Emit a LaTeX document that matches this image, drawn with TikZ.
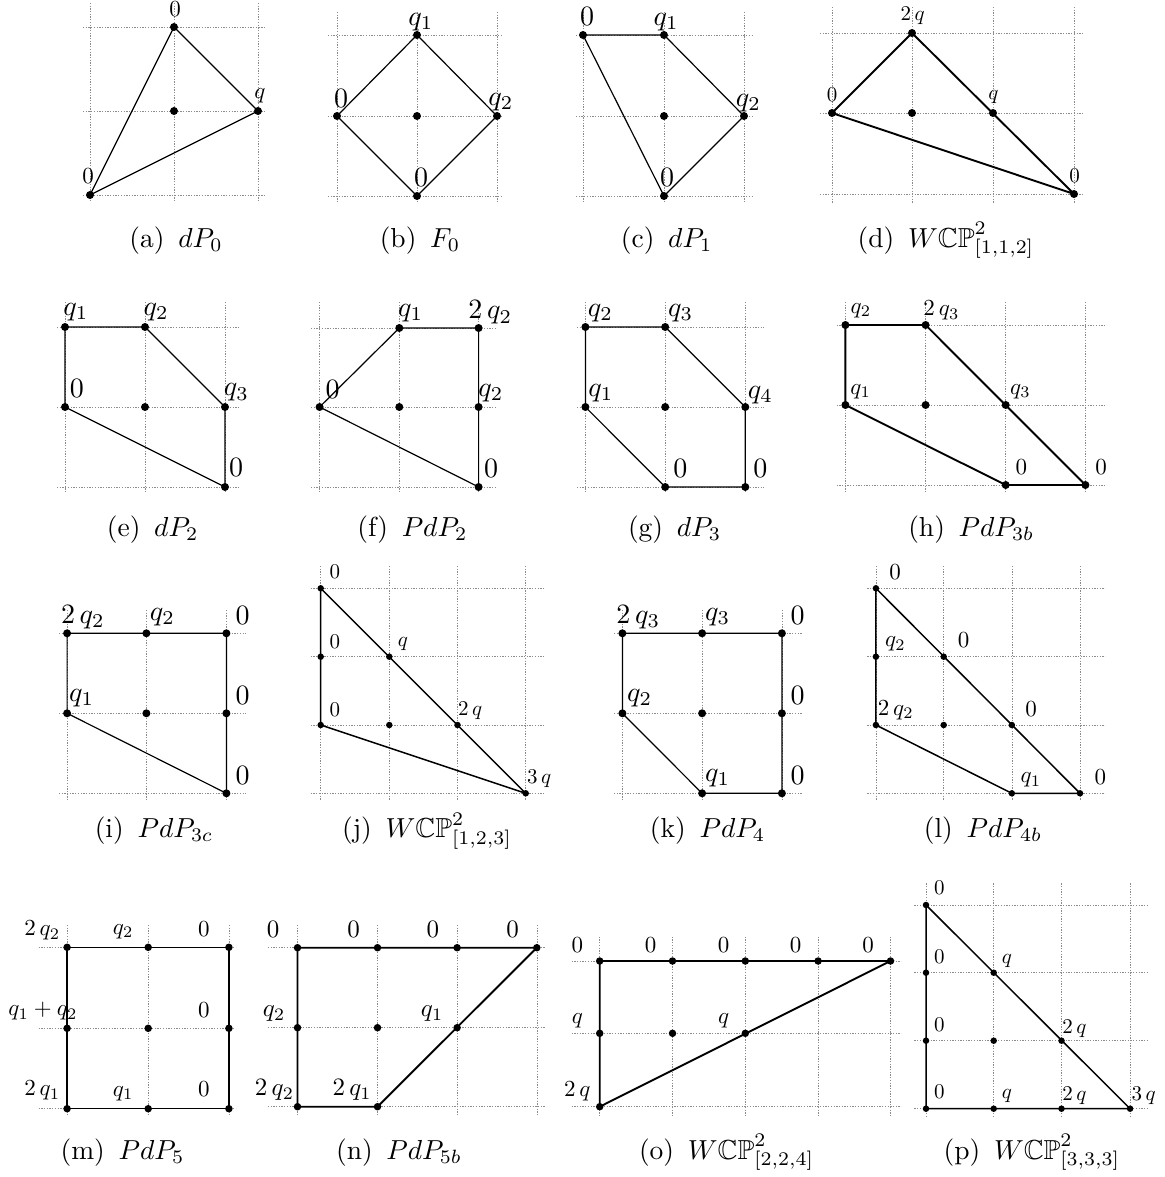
\RequirePackage{fix-cm}
\documentclass[tikz,border=0pt]{standalone}
\usepackage{amssymb}
\tikzset{
  grd/.style={draw=black!45, line width=0.6pt, dash pattern=on 1.3pt off 1.4pt},
  edg/.style={line width=1.2pt, line join=miter},
  edgm/.style={line width=1.5pt, line join=miter},
  edgt/.style={line width=1.9pt, line join=miter},
  vtxA/.style={circle, fill=black, inner sep=0pt, minimum size=8pt},
  vtxC/.style={circle, fill=black, inner sep=0pt, minimum size=7.5pt},
  vtxB/.style={circle, fill=black, inner sep=0pt, minimum size=6.5pt},
  lbl/.style={inner sep=0pt},
  fsa/.style={scale=2.1},
  fsb/.style={scale=2.3},
  fsc/.style={scale=2.5},
  fsd/.style={scale=2.8},
  captxt/.style={anchor=base, inner sep=0pt, scale=2.75},
}
\newcommand{\mygrid}[6]{%
  \foreach \gx in {#1} \draw[grd] (\gx,#5) -- (\gx,#6);
  \foreach \gy in {#2} \draw[grd] (#3,\gy) -- (#4,\gy);}
\newcommand{\capsep}{\hspace{0.5em}}
\begin{document}
\begin{tikzpicture}[x=1pt,y=-1pt]
\useasboundingbox (0,0) rectangle (1164,1177);
\fill[white] (0,0) rectangle (1164,1177);

% ---------- (a) dP0
\mygrid{90,174,258}{27,111,195}{83}{266}{3}{202}
\node[vtxA] (a1) at (90,195) {};
\node[vtxA] (a2) at (174,27) {};
\node[vtxA] (a3) at (258,111) {};
\node[vtxA] (a4) at (174,111) {};
\draw[edg] (a1.center) -- (a2.center) -- (a3.center) -- cycle;
\node[lbl,fsb] (la1) at (175,9) {$0$};
\node[lbl,fsb] (la2) at (260,96) {$q$};
\node[lbl,fsb] (la3) at (88,176) {$0$};
\node[captxt] (ca) at (176,247) {(a)\capsep$dP_0$};

% ---------- (b) F0
\mygrid{337,417,497}{35,116,196}{328}{503}{12}{203}
\node[vtxA] (b1) at (417,35) {};
\node[vtxA] (b2) at (337,116) {};
\node[vtxA] (b3) at (497,116) {};
\node[vtxA] (b4) at (417,196) {};
\node[vtxA] (b5) at (417,116) {};
\draw[edg] (b1.center) -- (b3.center) -- (b4.center) -- (b2.center) -- cycle;
\node[lbl,fsd] (lb1) at (421,21.7) {$q_1$};
\node[lbl,fsd] (lb2) at (341,98) {$0$};
\node[lbl,fsd] (lb3) at (501,101.7) {$q_2$};
\node[lbl,fsd] (lb4) at (421,177.5) {$0$};
\node[captxt] (cb) at (420,247) {(b)\capsep$F_0$};

% ---------- (c) dP1
\mygrid{583,664,744}{35,116,196}{576}{752}{12}{203}
\node[vtxA] (c1) at (583,35) {};
\node[vtxA] (c2) at (664,35) {};
\node[vtxA] (c3) at (744,116) {};
\node[vtxA] (c4) at (664,196) {};
\node[vtxA] (c5) at (664,116) {};
\draw[edg] (c1.center) -- (c2.center) -- (c3.center) -- (c4.center) -- cycle;
\node[lbl,fsd] (lc1) at (587,16) {$0$};
\node[lbl,fsd] (lc2) at (666.2,21.7) {$q_1$};
\node[lbl,fsd] (lc3) at (748.3,103.3) {$q_2$};
\node[lbl,fsd] (lc4) at (667.2,177.5) {$0$};
\node[captxt] (cc) at (666.7,247) {(c)\capsep$dP_1$};

% ---------- (d) WCP^2_[1,1,2]
\mygrid{832,912,993,1074}{33,113,194}{820}{1083}{7}{203}
\node[vtxA] (d1) at (832,113) {};
\node[vtxA] (d2) at (912,33) {};
\node[vtxA] (d3) at (1074,194) {};
\node[vtxA] (d4) at (912,113) {};
\node[vtxA] (d5) at (993,113) {};
\draw[edgt] (d1.center) -- (d2.center) -- (d3.center) -- cycle;
\node[lbl,fsa] (ld1) at (912.8,16.2) {$2\,q$};
\node[lbl,fsa] (ld2) at (993.3,97.5) {$q$};
\node[lbl,fsa] (ld3) at (1074.5,175.5) {$0$};
\node[lbl,fsa] (ld4) at (832,95) {$0$};
\node[captxt] (cd) at (946,247) {(d)\capsep$W\mathbb{CP}^2_{[1,1,2]}$};

% ---------- (e) dP2
\mygrid{65,145,225}{327,407,487}{57}{239}{302}{493}
\node[vtxA] (e1) at (65,327) {};
\node[vtxA] (e2) at (145,327) {};
\node[vtxA] (e3) at (225,407) {};
\node[vtxA] (e4) at (225,487) {};
\node[vtxA] (e5) at (65,407) {};
\node[vtxA] (e6) at (145,407) {};
\draw[edg] (e1.center) -- (e2.center) -- (e3.center) -- (e4.center) -- (e5.center) -- cycle;
\node[lbl,fsd] (le1) at (75.9,312.3) {$q_1$};
\node[lbl,fsd] (le2) at (156.2,312.3) {$q_2$};
\node[lbl,fsd] (le3) at (76.8,388.3) {$0$};
\node[lbl,fsd] (le4) at (236.4,392.5) {$q_3$};
\node[lbl,fsd] (le5) at (236.2,467.5) {$0$};
\node[captxt] (ce) at (152.7,536) {(e)\capsep$dP_2$};

% ---------- (f) PdP2
\mygrid{319.6,399.3,478.6}{328,407,487}{311}{495}{302}{493}
\node[vtxA] (f1) at (319.6,407) {};
\node[vtxA] (f2) at (399.3,328) {};
\node[vtxA] (f3) at (478.6,328) {};
\node[vtxA] (f4) at (478.6,407) {};
\node[vtxA] (f5) at (478.6,487) {};
\node[vtxA] (f6) at (399.3,407) {};
\draw[edg] (f1.center) -- (f2.center) -- (f3.center) -- (f5.center) -- cycle;
\node[lbl,fsd] (lf1) at (332.5,389) {$0$};
\node[lbl,fsd] (lf2) at (410.7,313.3) {$q_1$};
\node[lbl,fsd] (lf3) at (490.2,312.5) {$2\,q_2$};
\node[lbl,fsd] (lf4) at (491,393.3) {$q_2$};
\node[lbl,fsd] (lf5) at (491,468.3) {$0$};
\node[captxt] (cf) at (412.5,536) {(f)\capsep$PdP_2$};

% ---------- (g) dP3
\mygrid{585.4,665.2,745.3}{327,407,487}{577}{764}{302}{493}
\node[vtxA] (g1) at (585.4,327) {};
\node[vtxA] (g2) at (665.2,327) {};
\node[vtxA] (g3) at (745.3,407) {};
\node[vtxA] (g4) at (745.3,487) {};
\node[vtxA] (g5) at (665.2,487) {};
\node[vtxA] (g6) at (585.4,407) {};
\node[vtxA] (g7) at (665.2,407) {};
\draw[edg] (g1.center) -- (g2.center) -- (g3.center) -- (g4.center) -- (g5.center) -- (g6.center) -- cycle;
\node[lbl,fsd] (lg1) at (600.4,313.3) {$q_2$};
\node[lbl,fsd] (lg2) at (680.6,313.3) {$q_3$};
\node[lbl,fsd] (lg3) at (600.9,393.3) {$q_1$};
\node[lbl,fsd] (lg4) at (760.3,394.7) {$q_4$};
\node[lbl,fsd] (lg5) at (680.3,468.3) {$0$};
\node[lbl,fsd] (lg6) at (760.3,468.3) {$0$};
\node[captxt] (cg) at (674.6,536) {(g)\capsep$dP_3$};

% ---------- (h) PdP3b
\mygrid{845.4,925.6,1005.7,1085.4}{325,405,485}{836.6}{1106}{302}{493}
\node[vtxA] (h1) at (845.4,325) {};
\node[vtxA] (h2) at (925.6,325) {};
\node[vtxA] (h3) at (1005.7,405) {};
\node[vtxA] (h4) at (1085.4,485) {};
\node[vtxA] (h5) at (1005.7,485) {};
\node[vtxA] (h6) at (845.4,405) {};
\node[vtxA] (h7) at (925.6,405) {};
\draw[edgt] (h1.center) -- (h2.center) -- (h4.center) -- (h5.center) -- (h6.center) -- cycle;
\node[lbl,fsb] (lh1) at (860.8,310.8) {$q_2$};
\node[lbl,fsb] (lh2) at (941.4,310.5) {$2\,q_3$};
\node[lbl,fsb] (lh3) at (1020.3,391.7) {$q_3$};
\node[lbl,fsb] (lh4) at (860.6,391.7) {$q_1$};
\node[lbl,fsb] (lh5) at (1021.3,467.2) {$0$};
\node[lbl,fsb] (lh6) at (1101.2,467.2) {$0$};
\node[captxt] (ch) at (971.2,536) {(h)\capsep$PdP_{3b}$};

% ---------- (i) PdP3c
\mygrid{67.1,146.4,226.4}{633.3,713.3,793.3}{58.9}{245.7}{610}{800}
\node[vtxA] (i1) at (67.1,633.3) {};
\node[vtxA] (i2) at (146.4,633.3) {};
\node[vtxA] (i3) at (226.4,633.3) {};
\node[vtxA] (i4) at (226.4,713.3) {};
\node[vtxA] (i5) at (226.4,793.3) {};
\node[vtxA] (i6) at (67.1,713.3) {};
\node[vtxA] (i7) at (146.4,713.3) {};
\draw[edg] (i1.center) -- (i3.center) -- (i5.center) -- (i6.center) -- cycle;
\node[lbl,fsd] (li1) at (82.9,617.3) {$2\,q_2$};
\node[lbl,fsd] (li2) at (162.5,617.3) {$q_2$};
\node[lbl,fsd] (li3) at (242.5,615) {$0$};
\node[lbl,fsd] (li4) at (81.6,698.3) {$q_1$};
\node[lbl,fsd] (li5) at (242.5,695) {$0$};
\node[lbl,fsd] (li6) at (242.5,775) {$0$};
\node[captxt] (ci) at (154,837.5) {(i)\capsep$PdP_{3c}$};

% ---------- (j) WCP^2_[1,2,3]
\mygrid{320.7,389.3,457.5,525.7}{588.3,656.7,725,793.3}{310.7}{544.6}{566}{800}
\node[vtxB] (j1) at (320.7,588.3) {};
\node[vtxB] (j2) at (320.7,656.7) {};
\node[vtxB] (j3) at (320.7,725) {};
\node[vtxB] (j4) at (389.3,656.7) {};
\node[vtxB] (j5) at (457.5,725) {};
\node[vtxB] (j6) at (525.7,793.3) {};
\node[vtxB] (j7) at (389.3,725) {};
\draw[edgm] (j1.center) -- (j6.center) -- (j3.center) -- cycle;
\node[lbl,fsa] (lj1) at (334.8,572) {$0$};
\node[lbl,fsa] (lj2) at (334.8,641.7) {$0$};
\node[lbl,fsa] (lj3) at (402.9,644) {$q$};
\node[lbl,fsa] (lj4) at (334.8,709.3) {$0$};
\node[lbl,fsa] (lj5) at (470.2,710.5) {$2\,q$};
\node[lbl,fsa] (lj6) at (539.3,778.3) {$3\,q$};
\node[captxt] (cj) at (427,837.5) {(j)\capsep$W\mathbb{CP}^2_{[1,2,3]}$};

% ---------- (k) PdP4
\mygrid{622.4,702.1,781.9}{633.3,713.3,793.3}{613.9}{801.9}{610}{800}
\node[vtxA] (k1) at (622.4,633.3) {};
\node[vtxA] (k2) at (702.1,633.3) {};
\node[vtxA] (k3) at (781.9,633.3) {};
\node[vtxA] (k4) at (781.9,713.3) {};
\node[vtxA] (k5) at (781.9,793.3) {};
\node[vtxA] (k6) at (702.1,793.3) {};
\node[vtxA] (k7) at (622.4,713.3) {};
\node[vtxA] (k8) at (702.1,713.3) {};
\draw[edg] (k1.center) -- (k3.center) -- (k5.center) -- (k6.center) -- (k7.center) -- cycle;
\node[lbl,fsd] (lk1) at (638.2,617.3) {$2\,q_3$};
\node[lbl,fsd] (lk2) at (717.7,617.3) {$q_3$};
\node[lbl,fsd] (lk3) at (797.5,615) {$0$};
\node[lbl,fsd] (lk4) at (639.6,698.3) {$q_2$};
\node[lbl,fsd] (lk5) at (797.5,695) {$0$};
\node[lbl,fsd] (lk6) at (717.7,778.3) {$q_1$};
\node[lbl,fsd] (lk7) at (797.5,775) {$0$};
\node[captxt] (ck) at (707.6,837.5) {(k)\capsep$PdP_4$};

% ---------- (l) PdP4b
\mygrid{875.9,943.7,1011.8,1080}{588.3,656.7,725,793.3}{867.4}{1105}{566}{800}
\node[vtxB] (l1) at (875.9,588.3) {};
\node[vtxB] (l2) at (875.9,656.7) {};
\node[vtxB] (l3) at (875.9,725) {};
\node[vtxB] (l4) at (943.7,656.7) {};
\node[vtxB] (l5) at (1011.8,725) {};
\node[vtxB] (l6) at (1080,793.3) {};
\node[vtxB] (l7) at (1011.8,793.3) {};
\node[vtxB] (l8) at (943.7,725) {};
\draw[edgm] (l1.center) -- (l6.center) -- (l7.center) -- (l3.center) -- cycle;
\node[lbl,fsb] (ll1) at (895.1,572) {$0$};
\node[lbl,fsb] (ll2) at (895.5,644) {$q_2$};
\node[lbl,fsb] (ll3) at (963.7,640.3) {$0$};
\node[lbl,fsb] (ll4) at (895.8,710) {$2\,q_2$};
\node[lbl,fsb] (ll5) at (1031,708.7) {$0$};
\node[lbl,fsb] (ll6) at (1031,780) {$q_1$};
\node[lbl,fsb] (ll7) at (1100.4,777) {$0$};
\node[captxt] (cl) at (983,837.5) {(l)\capsep$PdP_{4b}$};

% ---------- (m) PdP5
\mygrid{67.1,148.2,228.9}{947.3,1028.3,1108.7}{38.6}{235.7}{925}{1115}
\node[vtxC] (m1) at (67.1,947.3) {};
\node[vtxC] (m2) at (148.2,947.3) {};
\node[vtxC] (m3) at (228.9,947.3) {};
\node[vtxC] (m4) at (67.1,1028.3) {};
\node[vtxC] (m5) at (148.2,1028.3) {};
\node[vtxC] (m6) at (228.9,1028.3) {};
\node[vtxC] (m7) at (67.1,1108.7) {};
\node[vtxC] (m8) at (148.2,1108.7) {};
\node[vtxC] (m9) at (228.9,1108.7) {};
\draw[edgm] (m1.center) -- (m3.center) -- (m9.center) -- (m7.center) -- cycle;
\node[lbl,fsb] (lm1) at (42.3,930.8) {$2\,q_2$};
\node[lbl,fsb] (lm2) at (123.2,931.7) {$q_2$};
\node[lbl,fsb] (lm3) at (203.9,929.5) {$0$};
\node[lbl,fsb] (lm4) at (42.9,1011.3) {$q_1+q_2$};
\node[lbl,fsb] (lm5) at (203.9,1010.5) {$0$};
\node[lbl,fsb] (lm6) at (42.3,1090.8) {$2\,q_1$};
\node[lbl,fsb] (lm7) at (123.2,1093.3) {$q_1$};
\node[lbl,fsb] (lm8) at (203.9,1089.5) {$0$};
\node[captxt] (cm) at (122.5,1159) {(m)\capsep$PdP_5$};

% ---------- (n) PdP5b
\mygrid{297.5,377.5,457.1,536.8}{947.7,1027.7,1106.7}{267.9}{544.6}{925}{1116}
\node[vtxC] (n1) at (297.5,947.7) {};
\node[vtxC] (n2) at (377.5,947.7) {};
\node[vtxC] (n3) at (457.1,947.7) {};
\node[vtxC] (n4) at (536.8,947.7) {};
\node[vtxC] (n5) at (297.5,1027.7) {};
\node[vtxC] (n6) at (377.5,1027.7) {};
\node[vtxC] (n7) at (457.1,1027.7) {};
\node[vtxC] (n8) at (297.5,1106.7) {};
\node[vtxC] (n9) at (377.5,1106.7) {};
\draw[edgt] (n1.center) -- (n4.center) -- (n9.center) -- (n8.center) -- cycle;
\node[lbl,fsc] (ln1) at (273.2,929.5) {$0$};
\node[lbl,fsc] (ln2) at (353.6,929.5) {$0$};
\node[lbl,fsc] (ln3) at (432.9,929.5) {$0$};
\node[lbl,fsc] (ln4) at (512.5,929.5) {$0$};
\node[lbl,fsc] (ln5) at (274.1,1013.3) {$q_2$};
\node[lbl,fsc] (ln6) at (432.1,1013.3) {$q_1$};
\node[lbl,fsc] (ln7) at (274.5,1090) {$2\,q_2$};
\node[lbl,fsc] (ln8) at (352.1,1090) {$2\,q_1$};
\node[captxt] (cn) at (399,1159) {(n)\capsep$PdP_{5b}$};

% ---------- (o) WCP^2_[2,2,4]
\mygrid{599.7,672.5,745.3,818.1,890.5}{961,1033.3,1106.7}{571.6}{901}{936.7}{1116.7}
\node[vtxC] (o1) at (599.7,961) {};
\node[vtxC] (o2) at (672.5,961) {};
\node[vtxC] (o3) at (745.3,961) {};
\node[vtxC] (o4) at (818.1,961) {};
\node[vtxC] (o5) at (890.5,961) {};
\node[vtxC] (o6) at (599.7,1033.3) {};
\node[vtxC] (o7) at (672.5,1033.3) {};
\node[vtxC] (o8) at (745.3,1033.3) {};
\node[vtxC] (o9) at (599.7,1106.7) {};
\draw[edgt] (o1.center) -- (o5.center) -- (o9.center) -- cycle;
\node[lbl,fsb] (lo1) at (577.3,945) {$0$};
\node[lbl,fsb] (lo2) at (650.5,945) {$0$};
\node[lbl,fsb] (lo3) at (723.7,945) {$0$};
\node[lbl,fsb] (lo4) at (795.7,945) {$0$};
\node[lbl,fsb] (lo5) at (868.2,945) {$0$};
\node[lbl,fsb] (lo6) at (577.3,1020.8) {$q$};
\node[lbl,fsb] (lo7) at (723.7,1020.8) {$q$};
\node[lbl,fsb] (lo8) at (577.3,1091.7) {$2\,q$};
\node[captxt] (co) at (726.6,1159) {(o)\capsep$W\mathbb{CP}^2_{[2,2,4]}$};

% ---------- (p) WCP^2_[3,3,3]
\mygrid{926,993.7,1061.5,1130.1}{905,972.7,1040.7,1108.7}{914.4}{1147.4}{883.3}{1116.7}
\node[vtxB] (p1) at (926,905) {};
\node[vtxB] (p2) at (926,972.7) {};
\node[vtxB] (p3) at (926,1040.7) {};
\node[vtxB] (p4) at (926,1108.7) {};
\node[vtxB] (p5) at (993.7,1108.7) {};
\node[vtxB] (p6) at (1061.5,1108.7) {};
\node[vtxB] (p7) at (1130.1,1108.7) {};
\node[vtxB] (p8) at (993.7,972.7) {};
\node[vtxB] (p9) at (1061.5,1040.7) {};
\node[vtxB] (p10) at (993.7,1040.7) {};
\draw[edgm] (p1.center) -- (p7.center) -- (p4.center) -- cycle;
\node[lbl,fsa] (lp1) at (939.4,888.2) {$0$};
\node[lbl,fsa] (lp2) at (939.4,957) {$0$};
\node[lbl,fsa] (lp3) at (1006.8,960.8) {$q$};
\node[lbl,fsa] (lp4) at (939.4,1024.7) {$0$};
\node[lbl,fsa] (lp5) at (1074.3,1028.3) {$2\,q$};
\node[lbl,fsa] (lp6) at (939.4,1092.2) {$0$};
\node[lbl,fsa] (lp7) at (1006.8,1095.8) {$q$};
\node[lbl,fsa] (lp8) at (1074.3,1095.8) {$2\,q$};
\node[lbl,fsa] (lp9) at (1143.6,1095.8) {$3\,q$};
\node[captxt] (cp) at (1031.9,1159) {(p)\capsep$W\mathbb{CP}^2_{[3,3,3]}$};
\end{tikzpicture}
\end{document}
